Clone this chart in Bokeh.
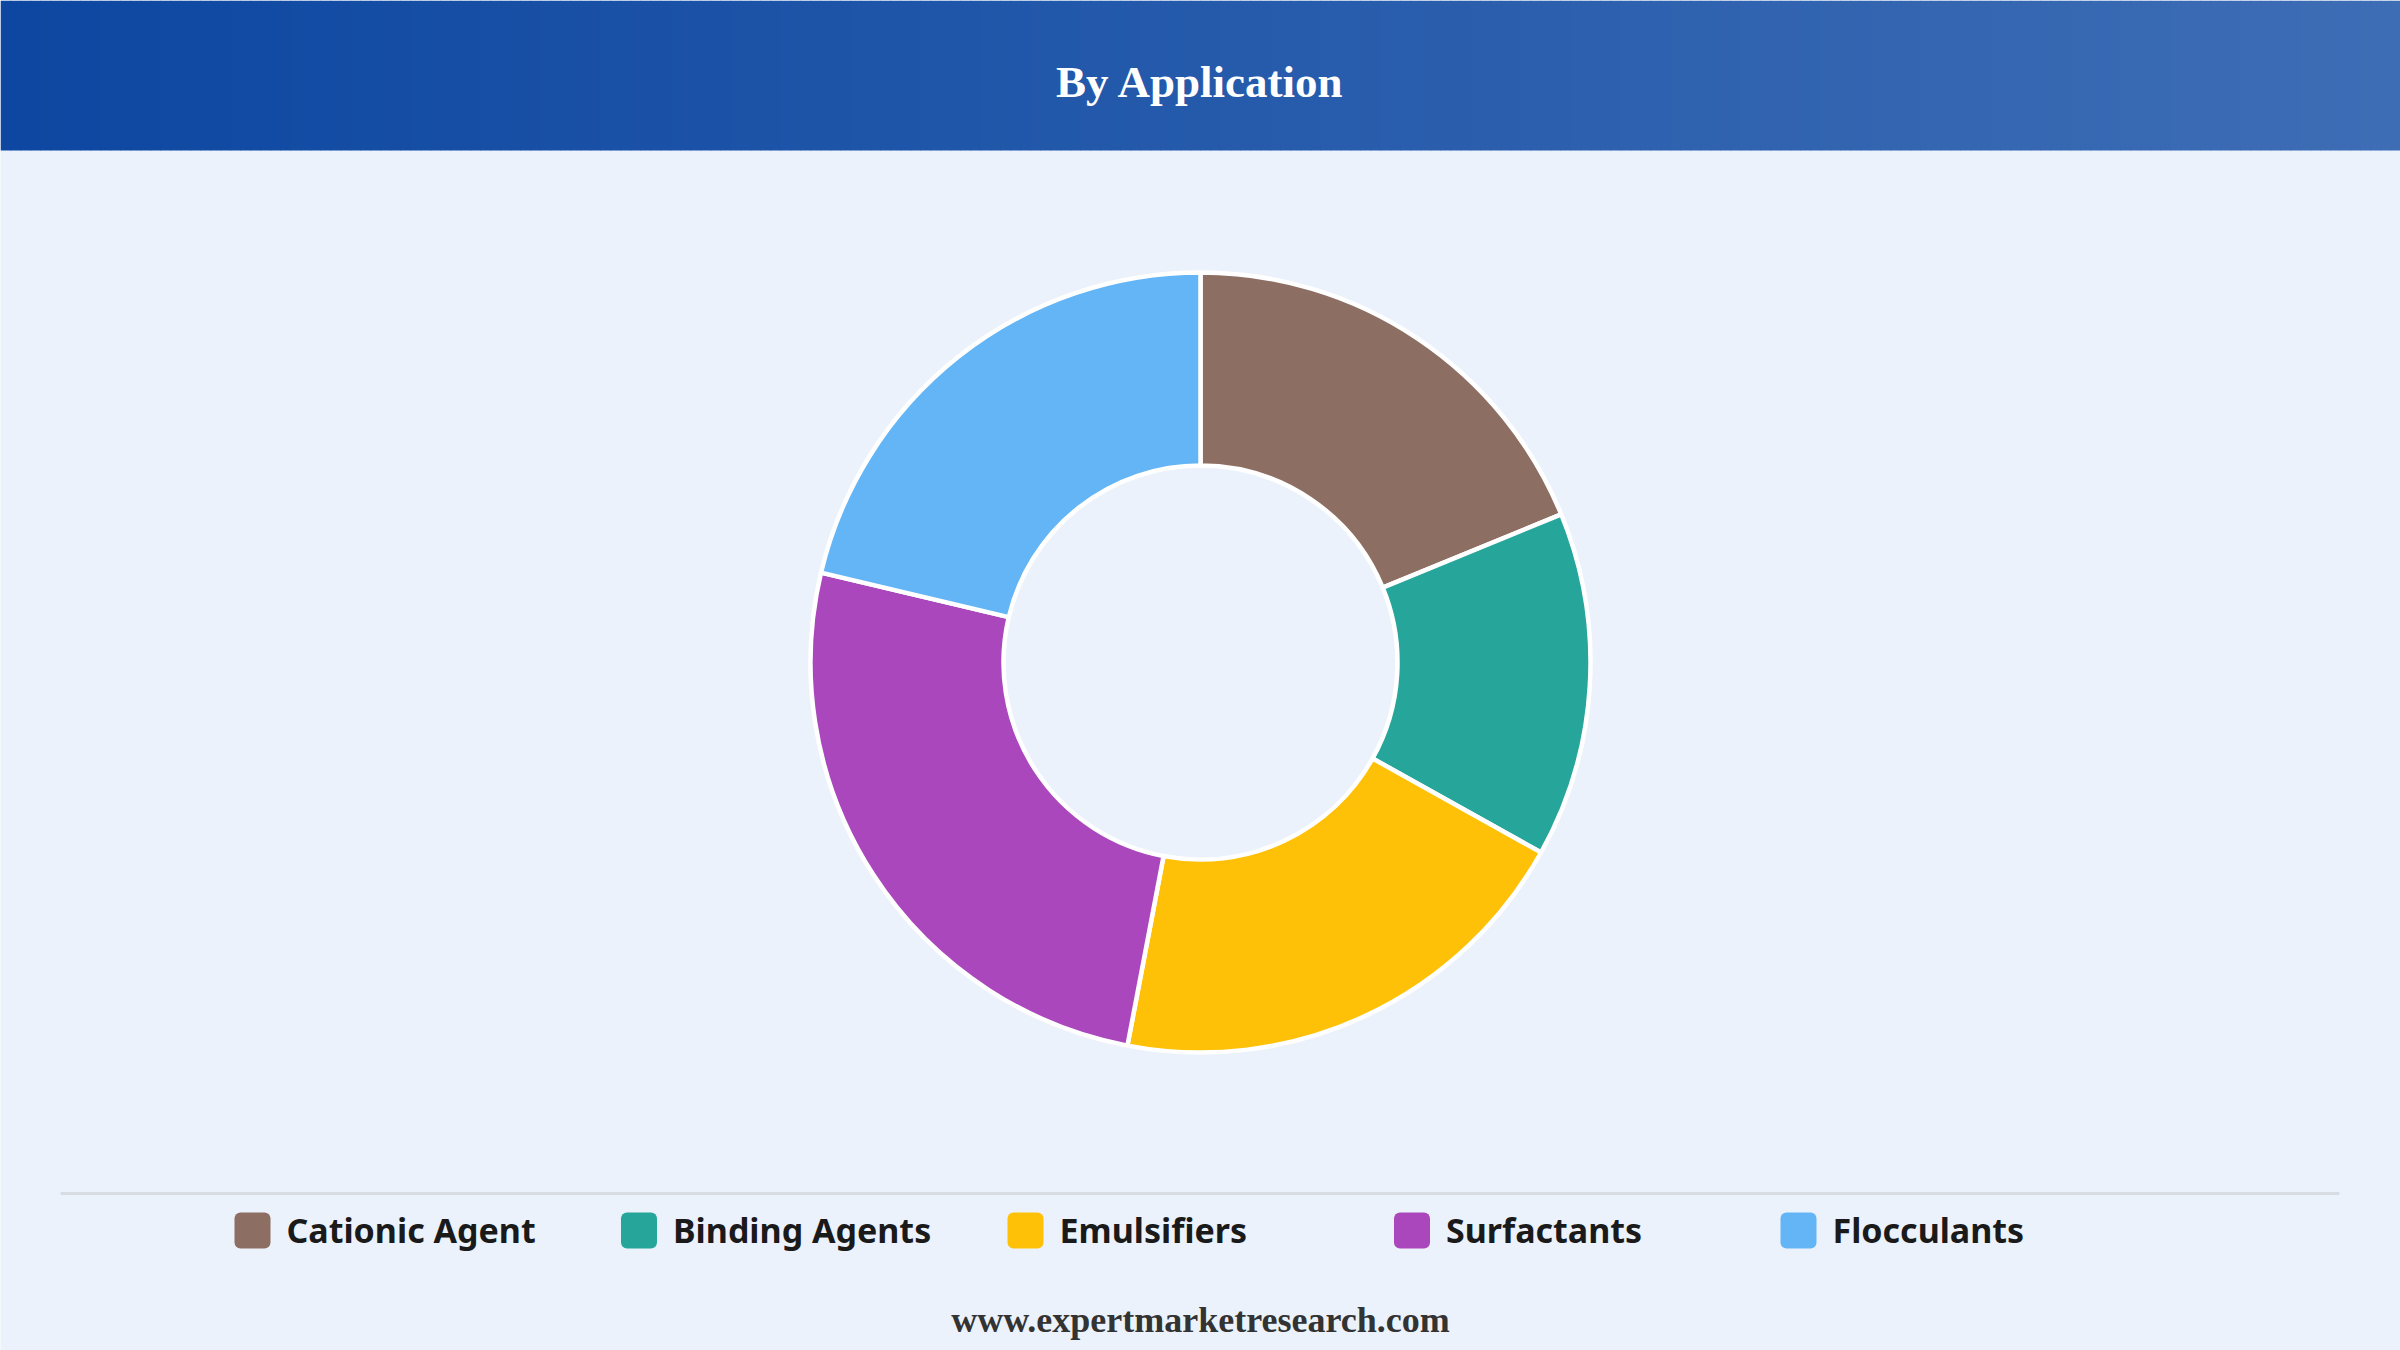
import numpy as np
from bokeh.plotting import figure
from bokeh.models import Range1d, ColumnDataSource
from bokeh.core.properties import value
from bokeh.embed import file_html
from bokeh.resources import INLINE

# ---------------- data ----------------
title = "By Application"
footer = "www.expertmarketresearch.com"
categories = ["Cationic Agent", "Binding Agents", "Emulsifiers", "Surfactants", "Flocculants"]
shares = [18.8, 14.3, 19.9, 25.7, 21.3]
colors = ["#8D6E63", "#26A69A", "#FFC107", "#AB47BC", "#64B5F6"]

# ---------------- layout helpers ----------------
W, H = 2400, 1350


def X(px):
    return np.asarray(px, dtype=float) if np.ndim(px) else float(px)


def Y(py):
    return H - np.asarray(py, dtype=float) if np.ndim(py) else H - float(py)


BG = "#EBF2FB"
p = figure(width=W, height=H, x_range=Range1d(0, W), y_range=Range1d(0, H),
           output_backend="svg", toolbar_location=None,
           x_axis_location=None, y_axis_location=None, min_border=0,
           background_fill_color=BG, border_fill_color=BG, outline_line_color=None)
p.grid.visible = False

# header gradient band
n = 240
cl = np.array([13, 71, 161])
cr = np.array([61, 109, 181])
edges = np.linspace(0, W, n + 1)
grad = ["#%02x%02x%02x" % tuple(int(round(c)) for c in (cl + (cr - cl) * t))
        for t in np.linspace(0, 1, n)]
p.quad(left=edges[:-1], right=edges[1:] + 0.6, top=Y(0), bottom=Y(150),
       fill_color=grad, line_color=None)

p.text(x=[X(1200)], y=[Y(81)], text=[title], text_align="center",
       text_baseline="middle", text_font=value("Liberation Serif"),
       text_font_style="bold", text_font_size="45px", text_color="white")

# donut
vals = np.array(shares, dtype=float)
frac = vals / vals.sum()
cum = np.concatenate([[0.0], np.cumsum(frac)]) * 2 * np.pi
src = ColumnDataSource(dict(start=np.pi / 2 - cum[1:], end=np.pi / 2 - cum[:-1],
                            color=colors, cat=categories))
p.annular_wedge(x=X(1200), y=Y(662), inner_radius=197, outer_radius=390,
                start_angle="start", end_angle="end", fill_color="color",
                line_color="white", line_width=4.5, source=src)

# separator
p.segment(x0=[X(60)], x1=[X(2339)], y0=[Y(1193)], y1=[Y(1193)],
          line_color="#D8DDE3", line_width=3)

# legend
idx = np.arange(len(categories))
sq_left = 234 + idx * 386.5
p.rect(x=X(sq_left + 18), y=[Y(1230)] * len(categories), width=36, height=36,
       fill_color=colors, line_color=None, border_radius=6)
p.text(x=X(sq_left + 52), y=[Y(1229)] * len(categories), text=categories,
       text_font=value("Noto Sans"), text_font_style="bold", text_font_size="34px",
       text_color="#1A1A1A", text_baseline="middle")

# footer
p.text(x=[X(1200)], y=[Y(1319)], text=[footer], text_align="center",
       text_baseline="middle", text_font=value("Liberation Serif"),
       text_font_style="bold", text_font_size="36px", text_color="#333333")

open("out.html", "w").write(file_html(p, INLINE))
